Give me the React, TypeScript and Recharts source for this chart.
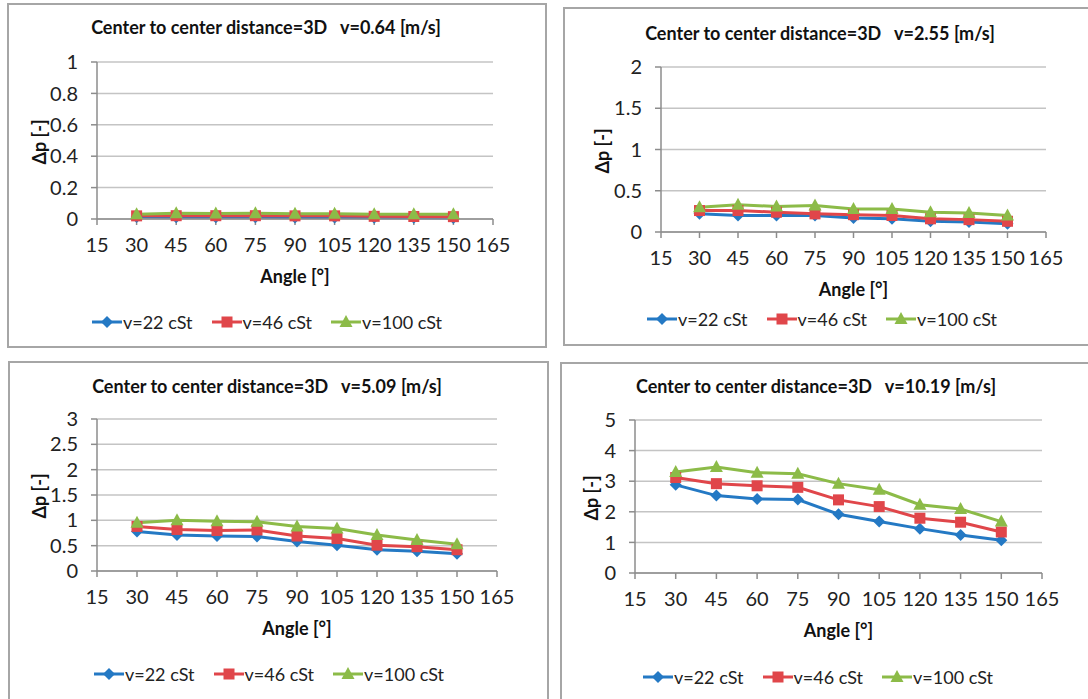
import React from 'react'
import { LineChart, Line, XAxis, YAxis, CartesianGrid } from 'recharts'

const angles = [30, 45, 60, 75, 90, 105, 120, 135, 150]
const xTicks = [15, 30, 45, 60, 75, 90, 105, 120, 135, 150, 165]
const seriesNames = ['v=22 cSt', 'v=46 cSt', 'v=100 cSt']

// v = 0.64 m/s
const p1v22 = [0.012, 0.011, 0.011, 0.011, 0.01, 0.01, 0.008, 0.008, 0.007]
const p1v46 = [0.02, 0.021, 0.021, 0.021, 0.02, 0.02, 0.017, 0.016, 0.015]
const p1v100 = [0.03, 0.036, 0.035, 0.036, 0.034, 0.034, 0.03, 0.03, 0.03]
const p1Ticks = [0, 0.2, 0.4, 0.6, 0.8, 1]

// v = 2.55 m/s
const p2v22 = [0.22, 0.2, 0.2, 0.2, 0.17, 0.16, 0.13, 0.12, 0.1]
const p2v46 = [0.26, 0.26, 0.24, 0.22, 0.21, 0.2, 0.16, 0.15, 0.13]
const p2v100 = [0.3, 0.33, 0.31, 0.32, 0.28, 0.28, 0.24, 0.23, 0.2]
const p2Ticks = [0, 0.5, 1, 1.5, 2]

// v = 5.09 m/s
const p3v22 = [0.78, 0.71, 0.69, 0.68, 0.58, 0.51, 0.42, 0.39, 0.34]
const p3v46 = [0.88, 0.82, 0.8, 0.81, 0.69, 0.64, 0.51, 0.48, 0.42]
const p3v100 = [0.95, 1.0, 0.98, 0.97, 0.88, 0.84, 0.71, 0.61, 0.53]
const p3Ticks = [0, 0.5, 1, 1.5, 2, 2.5, 3]

// v = 10.19 m/s
const p4v22 = [2.88, 2.53, 2.42, 2.4, 1.92, 1.68, 1.45, 1.24, 1.07]
const p4v46 = [3.12, 2.92, 2.85, 2.8, 2.39, 2.17, 1.79, 1.66, 1.34]
const p4v100 = [3.3, 3.46, 3.28, 3.24, 2.92, 2.72, 2.23, 2.09, 1.68]
const p4Ticks = [0, 1, 2, 3, 4, 5]

const COLORS = ['#2479C4', '#E0464A', '#8CBB48']
const FONT = 'Lato, "Open Sans", sans-serif'

function Marker({ cx, cy, kind }: { cx: number; cy: number; kind: number }) {
  if (cx == null || cy == null) return null
  const c = COLORS[kind]
  if (kind === 0) {
    const r = 6
    return <path d={`M${cx},${cy - r}L${cx + r},${cy}L${cx},${cy + r}L${cx - r},${cy}Z`} fill={c} />
  }
  if (kind === 1) {
    return <rect x={cx - 5.5} y={cy - 5.5} width={11} height={11} fill={c} />
  }
  return <path d={`M${cx},${cy - 7}L${cx + 6.5},${cy + 5}L${cx - 6.5},${cy + 5}Z`} fill={c} />
}

function LegendRow({ cx, cy }: { cx: number; cy: number }) {
  return (
    <div
      style={{
        position: 'absolute',
        left: cx - 220,
        width: 440,
        top: cy - 13,
        height: 26,
        display: 'flex',
        justifyContent: 'center',
        alignItems: 'center',
        fontFamily: FONT,
        fontSize: 18,
        color: '#222',
        whiteSpace: 'pre'
      }}
    >
      {seriesNames.map((n, i) => (
        <div key={n} style={{ display: 'flex', alignItems: 'center', marginRight: i < 2 ? 19 : 0 }}>
          <svg width={30} height={16} style={{ marginRight: 1 }}>
            <line x1={0} y1={8} x2={30} y2={8} stroke={COLORS[i]} strokeWidth={3} />
            <Marker cx={15} cy={8} kind={i} />
          </svg>
          <span>{n}</span>
        </div>
      ))}
    </div>
  )
}

type PanelProps = {
  box: [number, number, number, number]
  plot: [number, number, number, number]
  title: string
  titleX: number
  titleY: number
  legendX: number
  legendY: number
  ylabX: number
  ticks: number[]
  s1: number[]
  s2: number[]
  s3: number[]
}

function Panel(p: PanelProps) {
  const [bl, bt, br, bb] = p.box
  const [x0, y0, x1, y1] = p.plot
  const data = angles.map((a, i) => ({ angle: a, a: p.s1[i], b: p.s2[i], c: p.s3[i] }))
  const padL = 70
  const padT = 20
  const padR = 30
  const padB = 44
  const yMax = p.ticks[p.ticks.length - 1]
  return (
    <>
      <div
        style={{
          position: 'absolute',
          left: bl,
          top: bt,
          width: br - bl,
          height: bb - bt,
          border: '2px solid #a6a6a6',
          boxSizing: 'border-box',
          background: '#fff'
        }}
      />
      <div
        style={{
          position: 'absolute',
          left: p.titleX - 250,
          width: 500,
          top: p.titleY - 12,
          textAlign: 'center',
          fontFamily: FONT,
          fontWeight: 700,
          fontSize: 18,
          lineHeight: '24px',
          whiteSpace: 'pre',
          color: '#111'
        }}
      >
        {p.title}
      </div>
      <div style={{ position: 'absolute', left: x0 - padL, top: y0 - padT }}>
        <LineChart
          width={x1 - x0 + padL + padR}
          height={y1 - y0 + padT + padB}
          data={data}
          margin={{ top: padT, right: padR, left: 0, bottom: 0 }}
        >
          <CartesianGrid vertical={false} stroke="#c4c4c4" strokeWidth={1.5} />
          <XAxis
            dataKey="angle"
            type="number"
            domain={[15, 165]}
            ticks={xTicks}
            interval={0}
            height={padB}
            stroke="#8c8c8c"
            strokeWidth={1.5}
            tickSize={6}
            tickMargin={13}
            tick={{ fill: '#222', fontSize: 20, fontFamily: FONT }}
          />
          <YAxis
            type="number"
            domain={[0, yMax]}
            ticks={p.ticks}
            interval={0}
            width={padL}
            stroke="#8c8c8c"
            strokeWidth={1.5}
            tickSize={6}
            tickMargin={13}
            tick={{ fill: '#222', fontSize: 20, fontFamily: FONT }}
          />
          <Line dataKey="a" stroke={COLORS[0]} strokeWidth={3} isAnimationActive={false}
            dot={(d: any) => <Marker key={`a${d.index}`} cx={d.cx} cy={d.cy} kind={0} />} />
          <Line dataKey="b" stroke={COLORS[1]} strokeWidth={3} isAnimationActive={false}
            dot={(d: any) => <Marker key={`b${d.index}`} cx={d.cx} cy={d.cy} kind={1} />} />
          <Line dataKey="c" stroke={COLORS[2]} strokeWidth={3} isAnimationActive={false}
            dot={(d: any) => <Marker key={`c${d.index}`} cx={d.cx} cy={d.cy} kind={2} />} />
        </LineChart>
      </div>
      <div
        style={{
          position: 'absolute',
          left: (x0 + x1) / 2 - 100,
          width: 200,
          top: y1 + 57 - 12,
          textAlign: 'center',
          fontFamily: FONT,
          fontWeight: 700,
          fontSize: 18,
          lineHeight: '24px',
          color: '#111'
        }}
      >
        Angle [°]
      </div>
      <div
        style={{
          position: 'absolute',
          left: p.ylabX - 50,
          width: 100,
          top: (y0 + y1) / 2 + 1 - 12,
          textAlign: 'center',
          fontFamily: FONT,
          fontWeight: 700,
          fontSize: 18,
          lineHeight: '24px',
          color: '#111',
          transform: 'rotate(-90deg)'
        }}
      >
        Δp [-]
      </div>
      <LegendRow cx={p.legendX} cy={p.legendY} />
    </>
  )
}

export default function App() {
  return (
    <div style={{ position: 'absolute', left: 0, top: 0, width: 1088, height: 699, background: '#fff', overflow: 'hidden' }}>
      <Panel box={[7, 3, 547, 348]} plot={[97, 62, 493, 219]} title="Center to center distance=3D   v=0.64 [m/s]"
        titleX={266} titleY={27} legendX={267} legendY={322} ylabX={39} ticks={p1Ticks} s1={p1v22} s2={p1v46} s3={p1v100} />
      <Panel box={[563, 7, 1092, 346]} plot={[661, 67, 1046, 232]} title="Center to center distance=3D   v=2.55 [m/s]"
        titleX={820} titleY={33} legendX={822} legendY={319} ylabX={602} ticks={p2Ticks} s1={p2v22} s2={p2v46} s3={p2v100} />
      <Panel box={[8, 361, 549, 710]} plot={[97, 419, 497, 571]} title="Center to center distance=3D   v=5.09 [m/s]"
        titleX={267} titleY={386} legendX={269} legendY={674} ylabX={39} ticks={p3Ticks} s1={p3v22} s2={p3v46} s3={p3v100} />
      <Panel box={[560, 362, 1092, 710]} plot={[635, 420, 1042, 573]} title="Center to center distance=3D   v=10.19 [m/s]"
        titleX={816} titleY={386} legendX={818} legendY={677} ylabX={591} ticks={p4Ticks} s1={p4v22} s2={p4v46} s3={p4v100} />
    </div>
  )
}
